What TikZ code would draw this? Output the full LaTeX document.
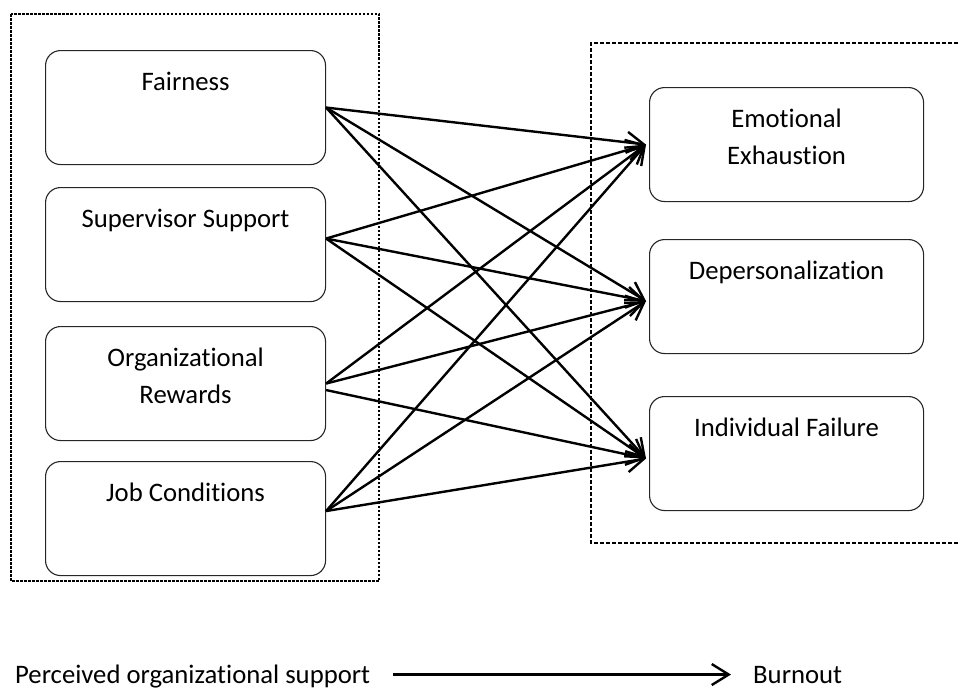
\documentclass[tikz,border=0pt]{standalone}
\usepackage{fontspec}
\setmainfont[Ligatures=NoCommon]{Carlito}
\usetikzlibrary{arrows.meta}
\begin{document}
\begin{tikzpicture}[x=1pt,y=-1pt,
  txt/.style={font=\fontsize{26.7}{37}\selectfont},
  box/.style={txt, draw=black!85, line width=1.1pt, rounded corners=15pt, inner sep=0pt,
    minimum height=114pt, text height=40pt, text depth=74pt, anchor=north west},
  leftbox/.style={box, minimum width=280pt},
  rightbox/.style={box, minimum width=274pt},
  lbl/.style={txt, inner sep=0pt, anchor=base west},
  arr/.style={line width=2.4pt, -{Straight Barb[length=17pt,width=21pt]}},
  leftframe/.style={line width=2.3pt, dash pattern=on 2.5pt off 1.5pt},
  rightframe/.style={line width=1.8pt, dash pattern=on 4pt off 2pt}
]
\useasboundingbox (0,0) rectangle (960,688);

% frames
\draw[leftframe] (11,14) rectangle (379,581);
\draw[rightframe] (970,43) -- (591,43) -- (591,543) -- (970,543);

% left boxes
\node[leftbox] (fair) at (45,50) {Fairness};
\node[leftbox] (sup) at (45,187) {Supervisor Support};
\node[leftbox] (org) at (45,326) {\begin{tabular}[t]{@{}c@{}}Organizational\\Rewards\end{tabular}};
\node[leftbox] (job) at (45,461) {Job Conditions};

% right boxes
\node[rightbox] (ee) at (649,87) {\begin{tabular}[t]{@{}c@{}}Emotional\\Exhaustion\end{tabular}};
\node[rightbox] (dp) at (649,239) {Depersonalization};
\node[rightbox] (indf) at (649,396) {Individual Failure};

% anchor points
\coordinate (fair-o) at (fair.east);
\coordinate (sup-o) at ([yshift=6pt]sup.east);
\coordinate (org-o) at (org.east);
\coordinate (org-o2) at ([yshift=-6.5pt]org.east);
\coordinate (job-o) at ([yshift=7.5pt]job.east);
\coordinate (ee-i) at ([xshift=-3pt]ee.west);
\coordinate (dp-i) at ([xshift=-3pt,yshift=-4.5pt]dp.west);
\coordinate (indf-i) at ([xshift=-3pt,yshift=-5pt]indf.west);

% connectors
\draw[arr] (fair-o) -- (ee-i);
\draw[arr] (fair-o) -- (dp-i);
\draw[arr] (fair-o) -- (indf-i);
\draw[arr] (sup-o) -- (ee-i);
\draw[arr] (sup-o) -- (dp-i);
\draw[arr] (sup-o) -- (indf-i);
\draw[arr] (org-o) -- (ee-i);
\draw[arr] (org-o) -- (dp-i);
\draw[arr] (org-o2) -- (indf-i);
\draw[arr] (job-o) -- (ee-i);
\draw[arr] (job-o) -- (dp-i);
\draw[arr] (job-o) -- (indf-i);

% legend
\node[lbl] (pos) at (15,683) {Perceived organizational support};
\node[lbl] (burn) at (753,683) {Burnout};
\draw[arr] ([xshift=23pt]pos.east |- burn.west) -- ([xshift=-22pt]burn.west);
\end{tikzpicture}
\end{document}
